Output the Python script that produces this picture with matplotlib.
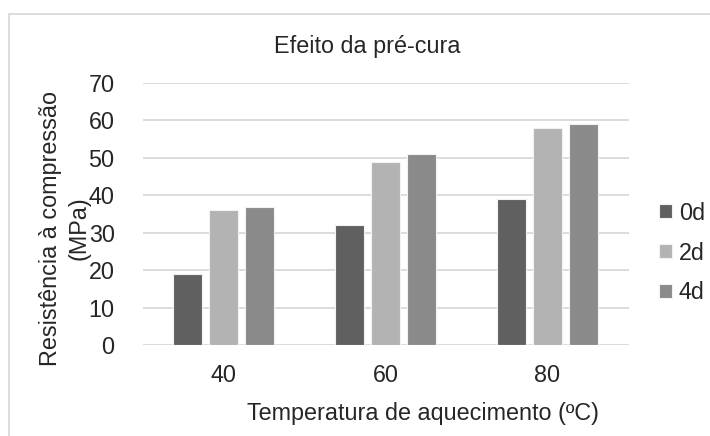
import matplotlib.pyplot as plt
import numpy as np
from matplotlib.patches import Rectangle

plt.rcParams['font.family'] = ['Liberation Sans', 'DejaVu Sans']

## Dados
temperaturas = ['40', '60', '80']
series = ['0d', '2d', '4d']
res_0d = [19, 32, 39]
res_2d = [36, 49, 58]
res_4d = [37, 51, 59]
cores = ['#606060', '#b3b3b3', '#8a8a8a']

W, H = 710, 436
fs = 16.8
cor_txt = '#262626'
fig = plt.figure(figsize=(W / 100, H / 100), dpi=100)

# moldura do grafico (so aparecem os lados de cima e da esquerda)
fig.patches.append(Rectangle((9 / W, -0.1), 1.2, 1.1 - 14.5 / H,
                             transform=fig.transFigure, fill=False,
                             edgecolor='#d9d9d9', linewidth=1.3))

ax = fig.add_axes([142.5 / W, (H - 345) / H, 486 / W, 262 / H])

x = np.arange(len(temperaturas))
largura = 0.178
passo = 0.224
for i, (nome, vals) in enumerate(zip(series, [res_0d, res_2d, res_4d])):
    ax.bar(x + (i - 1) * passo, vals, largura, color=cores[i], label=nome,
           edgecolor='#f2f2f2', linewidth=0.8, zorder=3)

ax.set_xlim(-0.5, 2.5)
ax.set_ylim(0, 70)
ax.set_yticks(range(0, 71, 10))
ax.set_xticks(x)
ax.set_xticklabels(temperaturas)
ax.yaxis.grid(True, color='#d9d9d9', linewidth=1.3, zorder=0)
ax.tick_params(length=0, labelsize=fs, colors=cor_txt)
ax.tick_params(axis='y', pad=20)
ax.tick_params(axis='x', pad=14)
for s in ax.spines.values():
    s.set_visible(False)

fig.text(367 / W, 1 - 46 / H, 'Efeito da pré-cura', ha='center', va='center',
         fontsize=fs, color=cor_txt)
fig.text(423 / W, 1 - 413 / H, 'Temperatura de aquecimento (ºC)', ha='center',
         va='center', fontsize=fs, color=cor_txt)
fig.text(65 / W, 1 - 228 / H, 'Resistência à compressão\n(MPa)', ha='center',
         va='center', rotation=90, fontsize=fs, color=cor_txt,
         linespacing=1.3)

leg = ax.legend(loc='center left', bbox_to_anchor=(659 / W, 1 - 253 / H),
                bbox_transform=fig.transFigure, frameon=False, fontsize=fs,
                handlelength=0.55, handleheight=0.55, handletextpad=0.3,
                labelspacing=0.72, borderaxespad=0, borderpad=0)
for t in leg.get_texts():
    t.set_color(cor_txt)

fig.savefig('out.png', dpi=100)
